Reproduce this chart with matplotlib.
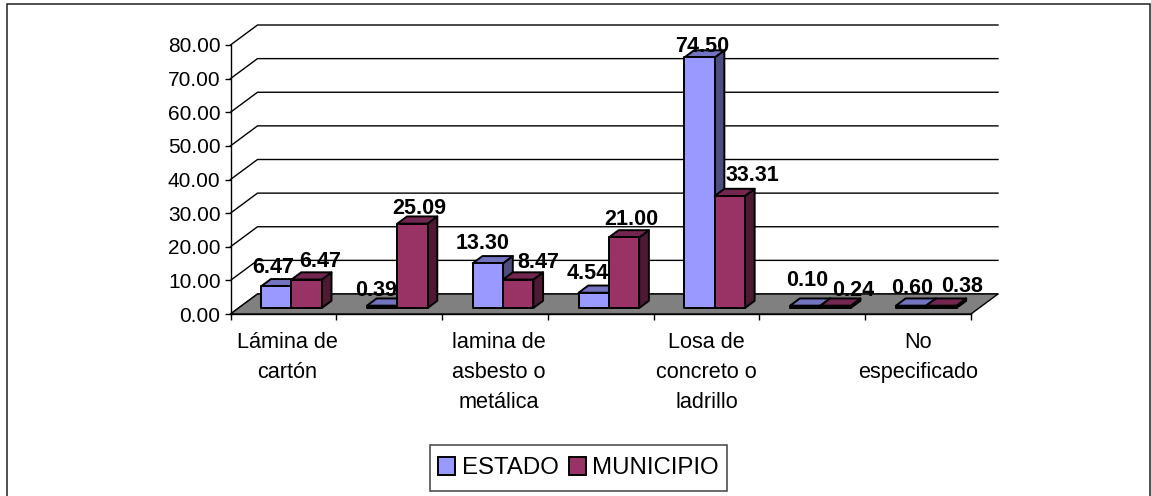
import matplotlib
matplotlib.use("Agg")
import matplotlib.pyplot as plt
from matplotlib.patches import Polygon, Patch, Rectangle
from matplotlib.transforms import ScaledTranslation

plt.rcParams['font.family'] = ['Liberation Sans', 'DejaVu Sans']

categories = ["Lámina de\ncartón", "", "lamina de\nasbesto o\nmetálica", "",
              "Losa de\nconcreto o\nladrillo", "", "No\nespecificado"]
series_names = ["ESTADO", "MUNICIPIO"]
estado = [6.47, 0.39, 13.30, 4.54, 74.50, 0.10, 0.60]
municipio = [8.47, 25.09, 8.47, 21.00, 33.31, 0.24, 0.38]
estado_labels = ["6.47", "0.39", "13.30", "4.54", "74.50", "0.10", "0.60"]
municipio_labels = ["6.47", "25.09", "8.47", "21.00", "33.31", "0.24", "0.38"]
y_ticks = [0, 10, 20, 30, 40, 50, 60, 70, 80]

W, H = 1151, 496
LEFT, RIGHT, BOTTOM, TOP = 230.5, 971, 314, 45
fig = plt.figure(figsize=(W / 100, H / 100), dpi=100)
fig.patch.set_facecolor('white')
fig.add_artist(Rectangle((6.5 / W, -0.01), (1150 - 6.5) / W, 1 - 4 / H + 0.01,
                         transform=fig.transFigure, fill=False, ec='#202020', lw=1.1))
ax = fig.add_axes([LEFT / W, 1 - BOTTOM / H, (RIGHT - LEFT) / W, (BOTTOM - TOP) / H])
ax.set_xlim(0, 7)
ax.set_ylim(0, 80)
ax.patch.set_visible(False)

px_x = 7 / (RIGHT - LEFT)
px_y = 80 / (BOTTOM - TOP)
DX = 27 * px_x
DY = 20 * px_y

# walls / floor
for v in y_ticks:
    ax.plot([0, DX, 7 + DX], [v, v + DY, v + DY], color='black', lw=1, clip_on=False, zorder=1)
ax.add_patch(Polygon([(0, 0), (7, 0), (7 + DX, DY), (DX, DY)], fc='#808080', ec='black', lw=1,
                     clip_on=False, zorder=2))

BAR_W = 30.3 * px_x
F0 = 0.30
D = 0.36
MIN_H = 0.7
COLORS = [('#9999FF', '#7373BF', '#4D4D80'), ('#993366', '#732650', '#4D1933')]


def bar(x0, v, cols, z):
    v = max(v, MIN_H)
    x1 = x0 + BAR_W
    bx, by = F0 * DX, F0 * DY
    dx, dy = D * DX, D * DY
    kw = dict(ec='black', lw=1.4, joinstyle='round', clip_on=False, zorder=z)
    ax.add_patch(Polygon([(x1 + bx, by), (x1 + bx + dx, by + dy), (x1 + bx + dx, by + v + dy),
                          (x1 + bx, by + v)], fc=cols[2], **kw))
    ax.add_patch(Polygon([(x0 + bx, by + v), (x1 + bx, by + v), (x1 + bx + dx, by + v + dy),
                          (x0 + bx + dx, by + v + dy)], fc=cols[1], **kw))
    ax.add_patch(Polygon([(x0 + bx, by), (x1 + bx, by), (x1 + bx, by + v), (x0 + bx, by + v)],
                         fc=cols[0], **kw))


est_dx = [-3, -6, -5, -6, 3, 2, 1]
mun_dx = [14, 7, 20, 7, 23, 18, 21]
est_dy = [19, 16, 20, 19, 11, 27, 17]
mun_dy = [18, 15, 17, 18, 20, 17, 20]

z = 3
for i in range(7):
    xc = i + 0.5
    bar(xc - BAR_W, estado[i], COLORS[0], z)
    bar(xc, municipio[i], COLORS[1], z + 1)
    z += 2
    by = F0 * DY
    ax.annotate(estado_labels[i], (xc - BAR_W / 2 + F0 * DX, by + estado[i]), xytext=(est_dx[i], est_dy[i]),
                textcoords='offset pixels', ha='center', va='center', fontsize=15.5, fontweight='bold',
                zorder=50, annotation_clip=False)
    ax.annotate(municipio_labels[i], (xc + BAR_W / 2 + F0 * DX, by + municipio[i]), xytext=(mun_dx[i], mun_dy[i]),
                textcoords='offset pixels', ha='center', va='center', fontsize=15.5, fontweight='bold',
                zorder=50, annotation_clip=False)

for s in ['top', 'right']:
    ax.spines[s].set_visible(False)
for s in ['left', 'bottom']:
    ax.spines[s].set_linewidth(1)
    ax.spines[s].set_zorder(60)

ax.set_yticks(y_ticks)
ax.set_yticklabels([f"{v:.2f}" for v in y_ticks], fontsize=15)
ax.tick_params(axis='y', length=4, width=1, pad=3.2)
ax.set_xticks(range(8))
ax.set_xticklabels([""] * 8)
ax.tick_params(axis='x', which='major', length=4.5, width=1)
ax.set_xticks([i + 0.5 for i in range(7)], minor=True)
labels = ax.set_xticklabels(categories, minor=True, fontsize=15.6, linespacing=1.57, va='top')
ax.tick_params(axis='x', which='minor', length=0, pad=13)
label_nudge_px = [4, 0, 4, 0, 0, 0, 0]
for lab, n in zip(ax.get_xticklabels(minor=True), label_nudge_px):
    lab.set_transform(lab.get_transform() + ScaledTranslation(n / 100, 0, fig.dpi_scale_trans))

fig.add_artist(Rectangle((430 / W, 1 - 491 / H), 297 / W, 46 / H, transform=fig.transFigure,
                         fc='white', ec='#404040', lw=1.1))
handles = [Patch(fc=COLORS[0][0], ec='black', lw=1.4), Patch(fc=COLORS[1][0], ec='black', lw=1.4)]
leg = fig.legend(handles, series_names, loc='center', bbox_to_anchor=(578.5 / W, 1 - 468 / H),
                 ncols=2, fontsize=17.3, frameon=False,
                 handlelength=0.71, handleheight=0.8, handletextpad=0.27,
                 columnspacing=0.42, borderpad=0.5, borderaxespad=0)

fig.savefig('out.png', dpi=100)
